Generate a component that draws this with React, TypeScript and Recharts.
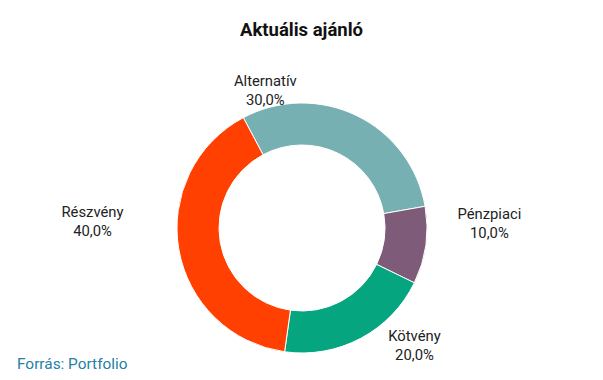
import React from 'react';
import { PieChart, Pie, Cell } from 'recharts';

const categories = ['Alternatív', 'Pénzpiaci', 'Kötvény', 'Részvény'];
const values = [30, 10, 20, 40];
const colors = ['#77b0b3', '#7e5c79', '#04a57f', '#ff4000'];
const labelNudges = [
  [-109, 10],
  [24, -28],
  [35, -29],
  [-47, -36],
];

const data = categories.map((name, i) => ({ name, value: values[i] }));
const RADIAN = Math.PI / 180;
const FONT = 'Roboto, "Noto Sans", sans-serif';

const renderLabel = (props: any) => {
  const { cx, cy, midAngle, outerRadius, index, name, percent } = props;
  const r = outerRadius + 40;
  const x = cx + r * Math.cos(-midAngle * RADIAN) + labelNudges[index][0];
  const y = cy + r * Math.sin(-midAngle * RADIAN) + labelNudges[index][1];
  const pct = (percent * 100).toFixed(1).replace('.', ',') + '%';
  return (
    <text x={x} y={y} textAnchor="middle" fill="#222222" fontFamily={FONT} fontSize={14.8}>
      <tspan x={x} dy={-4}>{name}</tspan>
      <tspan x={x} dy={19}>{pct}</tspan>
    </text>
  );
};

export default function App() {
  return (
    <div style={{ position: 'absolute', left: 0, top: 0, width: 603, height: 380, background: '#fff' }}>
      <div
        style={{
          position: 'absolute',
          left: 0,
          top: 19,
          width: 603,
          textAlign: 'center',
          fontFamily: FONT,
          fontWeight: 700,
          fontSize: 18.5,
          color: '#111',
          lineHeight: '22px',
        }}
      >
        Aktuális ajánló
      </div>
      <PieChart width={603} height={380} margin={{ top: 0, right: 0, bottom: 0, left: 0 }}>
        <Pie
          data={data}
          dataKey="value"
          nameKey="name"
          cx={302}
          cy={228}
          innerRadius={83}
          outerRadius={125}
          startAngle={118}
          endAngle={-242}
          stroke="#ffffff"
          strokeWidth={1}
          label={renderLabel}
          labelLine={false}
          isAnimationActive={false}
        >
          {data.map((d, i) => (
            <Cell key={d.name} fill={colors[i]} />
          ))}
        </Pie>
      </PieChart>
      <div
        style={{
          position: 'absolute',
          left: 17,
          top: 355,
          fontFamily: FONT,
          fontSize: 15.4,
          color: '#2580a2',
          lineHeight: '18px',
        }}
      >
        Forrás: Portfolio
      </div>
    </div>
  );
}
